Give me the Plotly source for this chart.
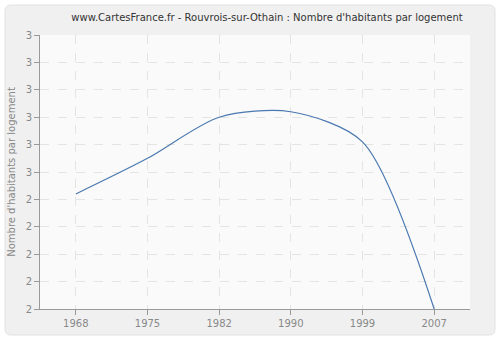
import plotly.graph_objects as go

years = ["1968", "1975", "1982", "1990", "1999", "2007"]
values = [2.42, 2.55, 2.70, 2.72, 2.61, 2.0]
ytick_vals = [2.0, 2.1, 2.2, 2.3, 2.4, 2.5, 2.6, 2.7, 2.8, 2.9, 3.0]
ytick_text = ["2", "2", "2", "2", "2", "3", "3", "3", "3", "3", "3"]

W, H = 500, 340
L, R, T, B = 40, 30, 35, 31
pw, ph = W - L - R, H - T - B

def px(x):
    return (x - L) / pw

def py(y):
    return (H - B - y) / ph

def rounded(x0, y0, x1, y1, r):
    return (f"M {px(x0+r)} {py(y0)} L {px(x1-r)} {py(y0)} "
            f"Q {px(x1)} {py(y0)} {px(x1)} {py(y0+r)} L {px(x1)} {py(y1-r)} "
            f"Q {px(x1)} {py(y1)} {px(x1-r)} {py(y1)} L {px(x0+r)} {py(y1)} "
            f"Q {px(x0)} {py(y1)} {px(x0)} {py(y1-r)} L {px(x0)} {py(y0+r)} "
            f"Q {px(x0)} {py(y0)} {px(x0+r)} {py(y0)} Z")

fig = go.Figure()
fig.add_trace(go.Scatter(
    x=years, y=values, mode="lines",
    line=dict(color="#4a78b0", width=1.2, shape="spline", smoothing=0.8),
    hoverinfo="x+y", showlegend=False,
))

font_family = "DejaVu Sans, Verdana, sans-serif"

fig.update_layout(
    width=W, height=H,
    margin=dict(l=L, r=R, t=T, b=B),
    paper_bgcolor="white",
    plot_bgcolor="rgba(0,0,0,0)",
    font=dict(family=font_family, size=10, color="#888888"),
    title=dict(
        text="www.CartesFrance.fr - Rouvrois-sur-Othain : Nombre d'habitants par logement",
        x=267 / W, xanchor="center", y=1 - 17 / H, yanchor="middle",
        font=dict(family=font_family, size=10, color="#333333"),
    ),
    shapes=[
        dict(type="path", xref="paper", yref="paper", path=rounded(5, 5, 495, 335, 6),
             fillcolor="#f0f0f0", line=dict(color="#e2e2e2", width=1), layer="below"),
        dict(type="rect", xref="paper", yref="paper", x0=0, y0=0, x1=1, y1=1,
             fillcolor="#fafafa", line=dict(width=0), layer="below"),
    ],
    xaxis=dict(
        type="category", range=[-0.5, 5.5],
        showgrid=True, gridcolor="#e4e4e4", griddash="dash", gridwidth=1,
        showline=True, linecolor="#999999", linewidth=1,
        ticks="outside", ticklen=5, tickcolor="#999999",
        tickfont=dict(size=10, color="#888888"),
        zeroline=False, fixedrange=True,
    ),
    yaxis=dict(
        range=[2.0, 3.0],
        tickmode="array", tickvals=ytick_vals, ticktext=ytick_text,
        showgrid=True, gridcolor="#e4e4e4", griddash="dash", gridwidth=1,
        showline=True, linecolor="#999999", linewidth=1,
        ticks="outside", ticklen=5, tickcolor="#999999",
        tickfont=dict(size=10, color="#888888"),
        title=dict(text="Nombre d'habitants par logement", standoff=8,
                   font=dict(size=10, color="#888888")),
        zeroline=False, fixedrange=True,
    ),
)

fig.write_html("out.html")
